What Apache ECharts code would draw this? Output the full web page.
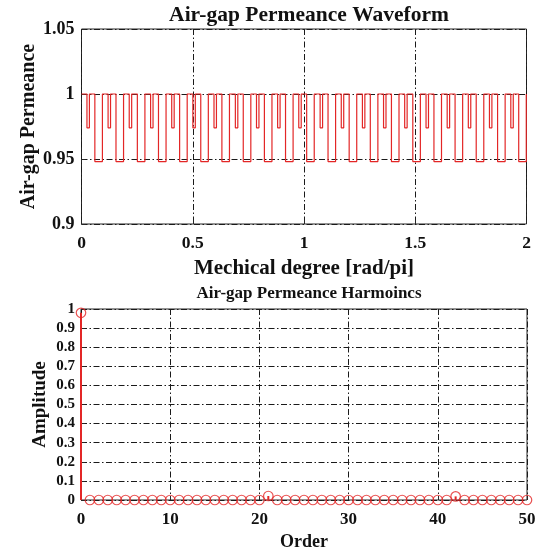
<!DOCTYPE html>
<html>
<head>
<meta charset="utf-8">
<style>
  html, body { margin: 0; padding: 0; background: #fff; }
  #chart { width: 542px; height: 554px; }
</style>
<script src="https://cdn.jsdelivr.net/npm/echarts@6/dist/echarts.min.js"></script>
</head>
<body>
<div id="chart"></div>
<script>
// Waveform: permeance is 1 except at narrow shallow dips and wider deep slots (x in rad/pi)
const shallowDipCenters = [0.030, 0.125, 0.220, 0.316, 0.411, 0.506, 0.601, 0.697, 0.792, 0.887,
  0.982, 1.078, 1.173, 1.268, 1.363, 1.458, 1.554, 1.649, 1.744, 1.839, 1.935];
const deepSlotCenters = [0.077, 0.172, 0.268, 0.363, 0.458, 0.553, 0.648, 0.744, 0.839, 0.934,
  1.029, 1.125, 1.220, 1.315, 1.410, 1.506, 1.601, 1.696, 1.791, 1.887, 1.982];
const baseLevel = 1;
const shallowLevel = 0.974;
const deepLevel = 0.948;
const shallowWidth = 0.011;
const deepWidth = 0.034;

// Harmonic spectrum, orders 0..50
const orders = [];
for (let k = 0; k <= 50; k++) orders.push(k);
const amplitudes = [0.98, 0, 0, 0, 0, 0, 0, 0, 0, 0,
  0, 0, 0, 0, 0, 0, 0, 0, 0, 0,
  0, 0.021, 0, 0, 0, 0, 0, 0, 0, 0,
  0, 0, 0, 0, 0, 0, 0, 0, 0, 0,
  0, 0, 0.019, 0, 0, 0, 0, 0, 0, 0,
  0];

// Build the step outline of the waveform
const events = [];
shallowDipCenters.forEach(c => events.push({ a: c - shallowWidth / 2, b: c + shallowWidth / 2, level: shallowLevel }));
deepSlotCenters.forEach(c => events.push({ a: c - deepWidth / 2, b: Math.min(2, c + deepWidth / 2), level: deepLevel }));
events.sort((p, q) => p.a - q.a);
const wave = [[0, baseLevel]];
events.forEach(e => {
  wave.push([e.a, baseLevel], [e.a, e.level], [e.b, e.level], [e.b, baseLevel]);
});
wave.push([2, baseLevel]);

const RED = '#e32626';
const INK = '#111';
const FONT = "'Liberation Serif', 'Times New Roman', serif";
const dashDot = { color: '#1a1a1a', width: 1, type: [6, 2.5, 1.5, 2.5] };
const innerTick = { show: true, inside: true, length: 4, lineStyle: { color: '#262626' } };

function fmtTop(v) {
  return String(Math.round(v * 100) / 100);
}

const chart = echarts.init(document.getElementById('chart'), null, { renderer: 'canvas' });
chart.setOption({
  animation: false,
  backgroundColor: '#fff',
  title: [
    { text: 'Air-gap Permeance Waveform', left: 304, top: -1, textAlign: 'center',
      textStyle: { fontFamily: FONT, fontWeight: 'bold', fontSize: 21.5, color: INK } },
    { text: 'Air-gap Permeance Harmoincs', left: 304, top: 280, textAlign: 'center',
      textStyle: { fontFamily: FONT, fontWeight: 'bold', fontSize: 17, color: INK } }
  ],
  grid: [
    { left: 81.5, top: 29, width: 445, height: 195, show: true, borderColor: '#262626', borderWidth: 1 },
    { left: 81, top: 309, width: 446, height: 191, show: true, borderColor: '#262626', borderWidth: 1 }
  ],
  xAxis: [
    { type: 'value', gridIndex: 0, min: 0, max: 2, interval: 0.5,
      name: 'Mechical degree [rad/pi]', nameLocation: 'middle', nameGap: 34,
      nameTextStyle: { fontFamily: FONT, fontWeight: 'bold', fontSize: 21, color: INK },
      axisLine: { show: false }, axisTick: innerTick,
      axisLabel: { fontFamily: FONT, fontWeight: 'bold', fontSize: 17.5, color: INK, margin: 10,
        formatter: fmtTop },
      splitLine: { show: true, lineStyle: dashDot } },
    { type: 'value', gridIndex: 1, min: 0, max: 50, interval: 10,
      name: 'Order', nameLocation: 'middle', nameGap: 33,
      nameTextStyle: { fontFamily: FONT, fontWeight: 'bold', fontSize: 18, color: INK },
      axisLine: { show: false }, axisTick: innerTick,
      axisLabel: { fontFamily: FONT, fontWeight: 'bold', fontSize: 17, color: INK, margin: 11 },
      splitLine: { show: true, lineStyle: dashDot } }
  ],
  yAxis: [
    { type: 'value', gridIndex: 0, min: 0.9, max: 1.05, interval: 0.05,
      name: 'Air-gap Permeance', nameLocation: 'middle', nameGap: 43, nameMoveOverlap: false,
      nameTextStyle: { fontFamily: FONT, fontWeight: 'bold', fontSize: 20, color: INK },
      axisLine: { show: false }, axisTick: innerTick,
      axisLabel: { fontFamily: FONT, fontWeight: 'bold', fontSize: 18, color: INK, margin: 7,
        formatter: fmtTop },
      splitLine: { show: true, lineStyle: dashDot } },
    { type: 'value', gridIndex: 1, min: 0, max: 1, interval: 0.1,
      name: 'Amplitude', nameLocation: 'middle', nameGap: 31, nameMoveOverlap: false,
      nameTextStyle: { fontFamily: FONT, fontWeight: 'bold', fontSize: 19, color: INK },
      axisLine: { show: false }, axisTick: innerTick,
      axisLabel: { fontFamily: FONT, fontWeight: 'bold', fontSize: 15, color: INK, margin: 6,
        formatter: v => String(Math.round(v * 10) / 10) },
      splitLine: { show: true, lineStyle: dashDot } }
  ],
  series: [
    { type: 'line', xAxisIndex: 0, yAxisIndex: 0, data: wave, showSymbol: false,
      lineStyle: { color: RED, width: 1.2 }, z: 5 },
    { type: 'bar', xAxisIndex: 1, yAxisIndex: 1, barWidth: 2,
      data: orders.map((k, i) => [k, amplitudes[i]]),
      itemStyle: { color: RED }, z: 4 },
    { type: 'scatter', xAxisIndex: 1, yAxisIndex: 1, symbol: 'circle', symbolSize: 9.5,
      data: orders.map((k, i) => [k, amplitudes[i]]),
      itemStyle: { color: 'rgba(255,255,255,0)', borderColor: RED, borderWidth: 1.2 }, z: 5 }
  ]
});
</script>
</body>
</html>
